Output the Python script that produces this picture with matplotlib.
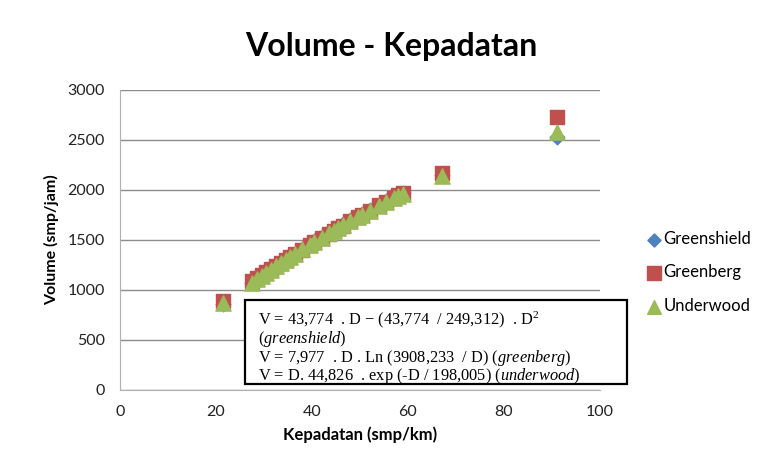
#!/usr/bin/env python3
"""Volume - Kepadatan scatter (Greenshield / Greenberg / Underwood)."""

import matplotlib

matplotlib.use("Agg")

import matplotlib.pyplot as plt
from matplotlib.patches import Rectangle

# density (smp/km) and modelled volume (smp/jam)
kepadatan = [21.5, 27.5, 28.5, 29.5, 30.5, 31.5, 32.5, 33.5, 34.5, 35.5, 36.5, 38, 39.5,
             40.5, 42, 43.5, 44.5, 45.5, 46.5, 48, 49.5, 50.5, 52, 54, 55.5, 57, 58, 59,
             67, 91]
greenshield = [860, 1071, 1105, 1139, 1172, 1205, 1237, 1269, 1301, 1333, 1364, 1410, 1455,
               1485, 1529, 1572, 1600, 1628, 1656, 1697, 1737, 1763, 1801, 1852, 1889, 1925,
               1948, 1972, 2145, 2529]
greenberg = [892, 1088, 1119, 1150, 1181, 1212, 1242, 1272, 1302, 1331, 1361, 1404, 1448,
             1476, 1519, 1561, 1589, 1617, 1644, 1685, 1725, 1752, 1792, 1845, 1884, 1922,
             1948, 1973, 2173, 2729]
underwood = [865, 1073, 1106, 1139, 1172, 1204, 1236, 1268, 1299, 1330, 1361, 1406, 1451,
             1480, 1523, 1565, 1593, 1621, 1648, 1688, 1728, 1754, 1793, 1843, 1880, 1916,
             1940, 1963, 2141, 2576]

equations = [
    r"V = 43,774  . D $-$ (43,774  / 249,312)  . D$^2$",
    r"($\it{greenshield}$)",
    r"V = 7,977  . D . Ln (3908,233  / D) ($\it{greenberg}$)",
    r"V = D. 44,826  . exp (-D / 198,005) ($\it{underwood}$)",
]

SANS = ["Lato", "DejaVu Sans"]
plt.rcParams["mathtext.fontset"] = "custom"
plt.rcParams["mathtext.rm"] = "Liberation Serif"
plt.rcParams["mathtext.it"] = "Liberation Serif:italic"

fig = plt.figure(figsize=(7.59, 4.68), dpi=100)
ax = fig.add_axes([0.158, 0.1667, 0.6325, 0.641])

ax.scatter(kepadatan, greenshield, marker="D", s=55, color="#4F81BD", label="Greenshield", zorder=3)
ax.scatter(kepadatan, greenberg, marker="s", s=110, color="#C0504D", label="Greenberg", zorder=4)
ax.scatter(kepadatan, underwood, marker="^", s=120, color="#9BBB59", label="Underwood", zorder=5)

ax.set_xlim(0, 100)
ax.set_ylim(0, 3000)
ax.set_xticks(range(0, 101, 20))
ax.set_yticks(range(0, 3001, 500))
ax.grid(axis="y", color="#8c8c8c", linewidth=1.0)
ax.set_axisbelow(True)
for side in ["top", "right"]:
    ax.spines[side].set_visible(False)
for side in ["left", "bottom"]:
    ax.spines[side].set_color("#b0b0b0")
ax.tick_params(length=0, pad=11, labelsize=11.5, labelcolor="#222222")
for lab in ax.get_xticklabels() + ax.get_yticklabels():
    lab.set_family(SANS)

ax.set_xlabel("Kepadatan (smp/km)", family=SANS, fontsize=12, fontweight="bold", labelpad=5)
ax.set_ylabel("Volume (smp/jam)", family=SANS, fontsize=11.5, fontweight="bold", labelpad=6)
fig.text(0.515, 0.9, "Volume - Kepadatan", family=SANS, fontsize=23, fontweight="bold",
         ha="center", va="center")

fig.legend(loc="center left", bbox_to_anchor=(0.842, 0.418), frameon=False,
           prop={"family": SANS, "size": 12}, labelspacing=1.05, handletextpad=0.15,
           handlelength=0.8, borderpad=0, markerscale=0.9)

box = Rectangle((0.3228, 0.1795), 0.503, 0.179, transform=fig.transFigure,
                facecolor="white", edgecolor="black", linewidth=1.6, zorder=10)
fig.patches.append(box)
y = 0.316
for line in equations:
    fig.text(0.34, y, line, family="Liberation Serif", fontsize=11.8, va="center", zorder=11)
    y -= 0.04

fig.savefig("out.png", dpi=100)
